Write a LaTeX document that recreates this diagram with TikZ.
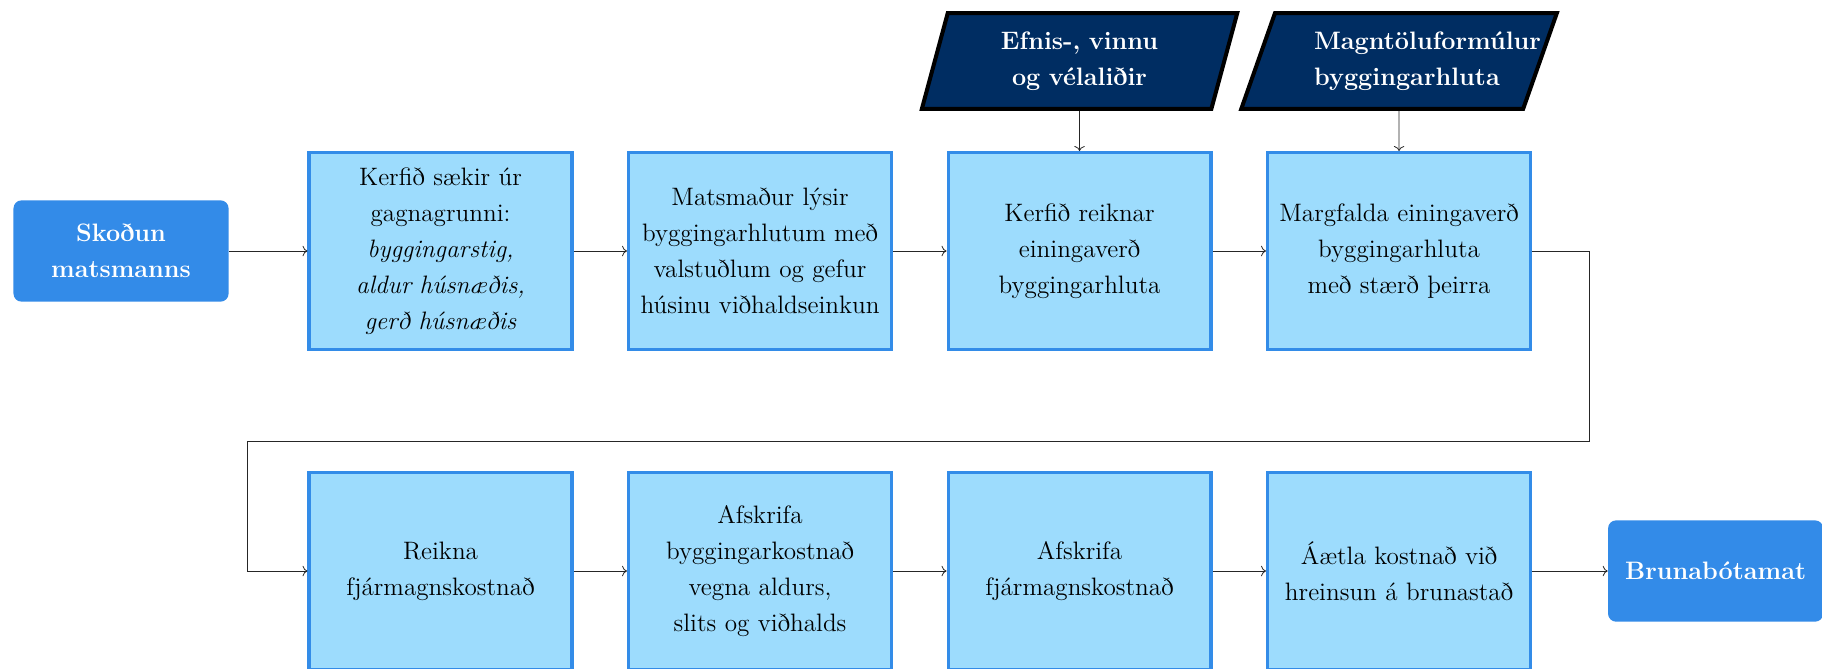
\documentclass[tikz,border=0pt]{standalone}
\usepackage{xcolor}
\usepackage{tikz}
\usetikzlibrary{shapes.geometric,positioning,calc,arrows.meta}

\definecolor{boxfill}{HTML}{9DDCFD}
\definecolor{boxline}{HTML}{338CE8}
\definecolor{termfill}{HTML}{338BE8}
\definecolor{datafill}{HTML}{002D62}
\newcommand{\diagfont}{\fontsize{12.6}{18}\selectfont}

\tikzset{
  procbox/.style={draw=boxline, fill=boxfill, line width=1.6pt, minimum width=4.62cm,
    minimum height=3.46cm, text width=126pt, align=center, font=\diagfont, inner sep=0pt},
  termbox/.style={fill=termfill, rounded corners=4pt, text=white, font=\diagfont\bfseries,
    align=center, minimum width=3.78cm, minimum height=1.78cm, inner xsep=8.5pt},
  databox/.style={trapezium, trapezium left angle=71, trapezium right angle=109,
    trapezium stretches=true, draw=black, line width=2pt, fill=datafill, text=white,
    font=\diagfont\bfseries, text width=120pt, align=center, minimum width=5.55cm,
    minimum height=1.68cm},
  flow/.style={->, black!85},
}

\begin{document}
\begin{tikzpicture}
  \useasboundingbox (0, 0) rectangle (32.02, -11.74);

  % Start and end
  \node[termbox, text width=90pt] (start) at (2.127, -4.411) {Sko\dh un\\matsmanns};
  \node[termbox] (fire) at (30.15, -10.035) {Brunab\'otamat};

  % Top row
  \node[procbox] (fetch) at (7.742, -4.411) {Kerfi\dh\ s\ae kir \'ur\\gagnagrunni:\\
    \textit{byggingarstig,}\\\textit{aldur h\'usn\ae\dh is,}\\\textit{ger\dh\ h\'usn\ae\dh is}};
  \node[procbox] (describe) at (13.357, -4.411) {Matsma\dh ur l\'ysir\\byggingarhlutum me\dh\\
    valstu\dh lum og gefur\\h\'usinu vi\dh haldseinkun};
  \node[procbox] (unitcost) at (18.972, -4.411) {Kerfi\dh\ reiknar\\einingaver\dh\\byggingarhluta};
  \node[procbox] (multiply) at (24.587, -4.411) {Margfalda einingaver\dh\\byggingarhluta\\
    me\dh\ st\ae r\dh\ \th eirra};

  % Inputs
  \node[databox] (rates) at (18.972, -1.072) {Efnis-, vinnu\\og v\'elali\dh ir};
  \node[databox, text width=85pt, align=left] (formulas) at (24.587, -1.072)
    {Magnt\"oluform\'ulur\\byggingarhluta};

  % Bottom row
  \node[procbox] (capital) at (7.742, -10.035) {Reikna\\fj\'armagnskostna\dh};
  \node[procbox] (deprec) at (13.357, -10.035) {Afskrifa\\byggingarkostna\dh\\
    vegna aldurs,\\slits og vi\dh halds};
  \node[procbox] (deprcap) at (18.972, -10.035) {Afskrifa\\fj\'armagnskostna\dh};
  \node[procbox] (cleanup) at (24.587, -10.035) {\'A\ae tla kostna\dh\ vi\dh\\hreinsun \'a brunasta\dh};

  % Connectors
  \draw[flow] (start) -- (fetch);
  \draw[flow] (fetch) -- (describe);
  \draw[flow] (describe) -- (unitcost);
  \draw[flow] (unitcost) -- (multiply);
  \draw[flow] (rates) -- (unitcost);
  \draw[flow] (formulas) -- (multiply);
  \draw[flow] (multiply.east) -- ++(1.0, 0) |- ([xshift=-1.05cm, yshift=2.27cm]capital.west)
    -- ([xshift=-1.05cm]capital.west) -- (capital.west);
  \draw[flow] (capital) -- (deprec);
  \draw[flow] (deprec) -- (deprcap);
  \draw[flow] (deprcap) -- (cleanup);
  \draw[flow] (cleanup) -- (fire);
\end{tikzpicture}
\end{document}
